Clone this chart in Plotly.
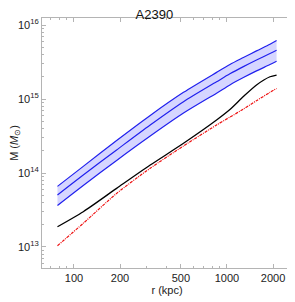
import plotly.graph_objects as go

# radius grid (kpc)
r_kpc = [78, 115, 190, 315, 520, 855, 1045, 1280, 1560, 1910, 2110]

# mass profiles (solar masses)
m_center = [5.05e13, 9.4e13, 2.05e14, 4.46e14, 9.2e14, 1.71e15, 2.19e15, 2.74e15, 3.37e15, 4.12e15, 4.57e15]
m_upper = [6.6e13, 1.23e14, 2.75e14, 6.0e14, 1.23e15, 2.29e15, 2.92e15, 3.63e15, 4.47e15, 5.5e15, 6.17e15]
m_lower = [3.63e13, 6.76e13, 1.48e14, 3.16e14, 6.46e14, 1.2e15, 1.55e15, 1.95e15, 2.4e15, 2.92e15, 3.24e15]
m_black = [1.88e13, 3.0e13, 6.2e13, 1.28e14, 2.52e14, 5.2e14, 7.2e14, 1.08e15, 1.55e15, 2.0e15, 2.11e15]
m_red = [1.04e13, 2.09e13, 5.3e13, 1.16e14, 2.32e14, 4.46e14, 5.7e14, 7.3e14, 9.5e14, 1.23e15, 1.39e15]

x_major = [100, 200, 500, 1000, 2000]
x_major_text = ["100", "200", "500", "1000", "2000"]
x_minor = [70, 80, 90, 300, 400, 600, 700, 800, 900]
y_major = [1e13, 1e14, 1e15, 1e16]
y_major_text = ["10<sup>13</sup>", "10<sup>14</sup>", "10<sup>15</sup>", "10<sup>16</sup>"]
y_minor = [m * b for b in [1e12, 1e13, 1e14, 1e15] for m in range(2, 10)]

BLUE = "#2020ee"
FONT = "Liberation Sans, Arial"
fig = go.Figure()
fig.add_trace(go.Scatter(x=r_kpc, y=m_lower, mode="lines",
                         line=dict(color=BLUE, width=1.2, shape="spline", smoothing=0.8),
                         hoverinfo="skip", showlegend=False))
fig.add_trace(go.Scatter(x=r_kpc, y=m_upper, mode="lines",
                         line=dict(color=BLUE, width=1.2, shape="spline", smoothing=0.8),
                         fill="tonexty", fillcolor="#d6d6ff", showlegend=False))
fig.add_trace(go.Scatter(x=r_kpc, y=m_center, mode="lines",
                         line=dict(color=BLUE, width=1.2, shape="spline", smoothing=0.8),
                         showlegend=False))
fig.add_trace(go.Scatter(x=r_kpc, y=m_black, mode="lines",
                         line=dict(color="black", width=1.3, shape="spline", smoothing=0.7),
                         showlegend=False))
fig.add_trace(go.Scatter(x=r_kpc, y=m_red, mode="lines",
                         line=dict(color="#ee1111", width=1.2, shape="spline", smoothing=0.7,
                                   dash="3px,1px,1px,1px"),
                         showlegend=False))

axis_common = dict(showgrid=False, zeroline=False, showline=True, linecolor="#b4b4b4", linewidth=1,
                   mirror="ticks", ticks="inside", tickcolor="#b4b4b4", ticklen=4, automargin=False,
                   tickfont=dict(family=FONT, size=11, color="#222"))
# the page body adds an 8px offset, so the figure is 8px smaller and margins shifted
fig.update_layout(
    width=287, height=294,
    margin=dict(l=34, r=3, t=10, b=34),
    plot_bgcolor="white", paper_bgcolor="white",
    title=dict(text="A2390", x=0.51, xanchor="center", y=0.993, yanchor="top",
               font=dict(family=FONT, size=13, color="#111")),
    xaxis=dict(type="log", range=[1.791, 3.425], tickvals=x_major, ticktext=x_major_text,
               title=dict(text="r (kpc)", standoff=2, font=dict(family=FONT, size=11, color="#222")),
               minor=dict(tickvals=x_minor, ticks="inside", ticklen=2, tickcolor="#b4b4b4"),
               **axis_common),
    yaxis=dict(type="log", range=[12.716, 16.095], tickvals=y_major, ticktext=y_major_text,
               title=dict(text="M (<i>M</i><sub>⊙</sub>)", standoff=2,
                          font=dict(family=FONT, size=11, color="#222")),
               minor=dict(tickvals=y_minor, ticks="inside", ticklen=2, tickcolor="#b4b4b4"),
               **axis_common),
)
fig.write_html("out.html")
